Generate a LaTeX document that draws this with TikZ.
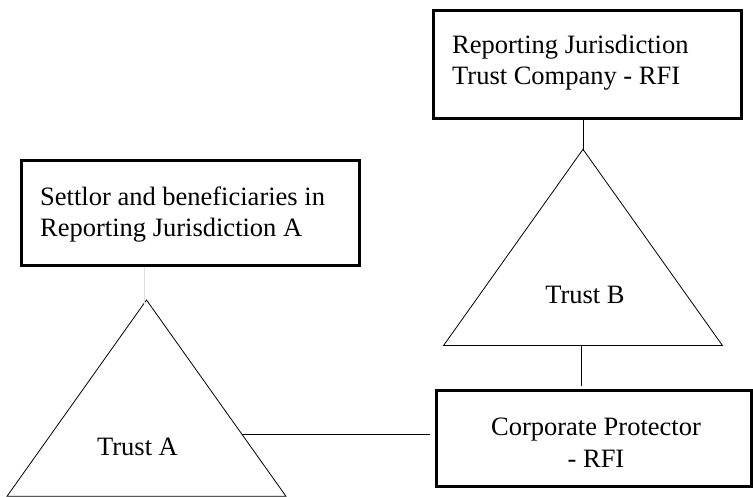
\documentclass[tikz,border=0pt]{standalone}
\usepackage{fontspec}
\setmainfont{Liberation Serif}
\begin{document}
\begin{tikzpicture}[x=1pt,y=-1pt,font=\fontsize{26.5}{31}\selectfont]
      \tikzset{entity/.style={draw,line width=3pt,inner sep=0pt},
        boxtext/.style={inner sep=0pt,align=left},
        link/.style={line width=0.8pt}}
      \useasboundingbox (0,0) rectangle (753,497);
      % boxes
      \node[entity,minimum width=307.5,minimum height=108.3] (rjtc) at (587.25,64.2) {};
      \node[entity,minimum width=337.6,minimum height=105.7] (settlor) at (190.5,212.9) {};
      \node[entity,minimum width=315.5,minimum height=96] (protector) at (594,438.7) {};
      \node[boxtext,anchor=north west] (rjtc-txt) at (452,35) {Reporting Jurisdiction\\Trust Company - RFI};
      \node[boxtext,anchor=north west] (settlor-txt) at (40,186.2) {Settlor and beneficiaries in\\Reporting Jurisdiction A};
      \node[boxtext,align=center,anchor=north,font=\fontsize{26.5}{32.5}\selectfont] (protector-txt) at (596,417.5) {Corporate Protector\\- RFI};
      % trusts
      \foreach \n/\x/\y in {trA/146.5/300, trB/583/149.3} {
        \draw[link] (\x,\y) -- ++(-139.5,196.3) -- ++(279,0) -- cycle;
        \coordinate (\n) at (\x,\y);
        \coordinate (\n-base) at (\x-1.3,\y+196.3);
      }
      \node[anchor=base,inner sep=0pt] (trA-txt) at (137.5,455) {Trust A};
      \node[anchor=base,inner sep=0pt] (trB-txt) at (585,304) {Trust B};
      \coordinate (trA-edge) at (241.9,434.3);
      % links
      \draw[link] (rjtc.south -| trB) -- ([yshift=-2pt]trB);
      \draw[link] (trB-base) -- ([yshift=3pt]trB-base |- protector.north);
      \draw[gray!25,line width=0.5pt] ([xshift=-2pt]settlor.south -| trA) -- ([xshift=-2pt,yshift=-4pt]trA);
      \draw[link,shorten >=5pt] (trA-edge) -- (trA-edge -| protector.west);
    \end{tikzpicture}
\end{document}
